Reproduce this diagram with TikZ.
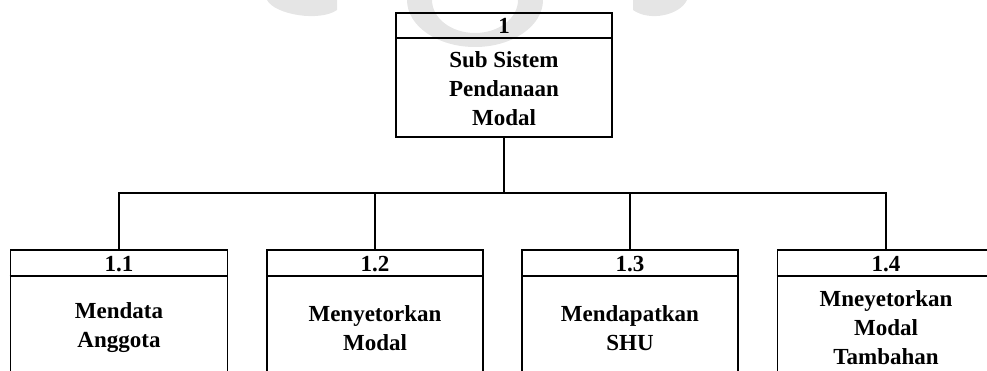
\documentclass[tikz,border=0pt]{standalone}
\usepackage{fontspec}
\setmainfont{Liberation Serif}
\begin{document}
\begin{tikzpicture}[x=1pt,y=1pt,
  frame/.style={draw=black, line width=1.8pt, rectangle, inner sep=0pt},
  txt/.style={font=\bfseries\fontsize{23}{29}\selectfont, align=center, inner sep=0pt, text=black},
  link/.style={draw=black, line width=1.8pt},
  wm/.style={fill=gray!20}]
\useasboundingbox (0,0) rectangle (987,-371);
\clip (0,0) rectangle (987,-371);
% faint watermark
\fill[wm, even odd rule] (475,0) ellipse [x radius=68, y radius=47] (475,0) ellipse [x radius=43, y radius=33];
\fill[wm] (267,0) .. controls (275,-15) and (320,-22) .. (337,-10) -- (337,0) -- cycle;
\fill[wm] (633,0) -- (633,-10) .. controls (650,-22) and (680,-15) .. (687,0) -- cycle;
% top box
\node[frame, minimum width=216pt, minimum height=124pt] (top) at (504,-75) {};
\draw[link] ([yshift=-26pt]top.north west) -- ([yshift=-26pt]top.north east);
\node[txt] (topnum) at (504,-26) {1};
\node[txt] (toptxt) at (504,-88.5) {Sub Sistem\\Pendanaan\\Modal};
% bottom boxes
\node[frame, minimum width=217pt, minimum height=170pt] (b11) at (119,-335) {};
\node[frame, minimum width=216pt, minimum height=170pt] (b12) at (375,-335) {};
\node[frame, minimum width=216pt, minimum height=170pt] (b13) at (630,-335) {};
\node[frame, minimum width=217pt, minimum height=170pt] (b14) at (886,-335) {};
\foreach \b in {b11,b12,b13,b14}{
  \draw[link] ([yshift=-27pt]\b.north west) -- ([yshift=-27pt]\b.north east);
}
\node[txt] (n11) at (119,-264) {1.1};
\node[txt] (n12) at (375,-264) {1.2};
\node[txt] (n13) at (630,-264) {1.3};
\node[txt] (n14) at (886,-264) {1.4};
\node[txt] (t11) at (119,-328) {Mendata\\Anggota};
\node[txt] (t12) at (375,-328) {Menyetorkan\\Modal};
\node[txt] (t13) at (630,-328) {Mendapatkan\\SHU};
\node[txt] (t14) at (886,-327.5) {Mneyetorkan\\Modal\\Tambahan};
% connectors
\coordinate (bus) at (504,-193);
\draw[link] (top.south) -- (bus);
\draw[link] (b11.north) |- (bus) -| (b14.north);
\draw[link] (b12.north) -- (b12.north |- bus);
\draw[link] (b13.north) -- (b13.north |- bus);
\end{tikzpicture}
\end{document}
